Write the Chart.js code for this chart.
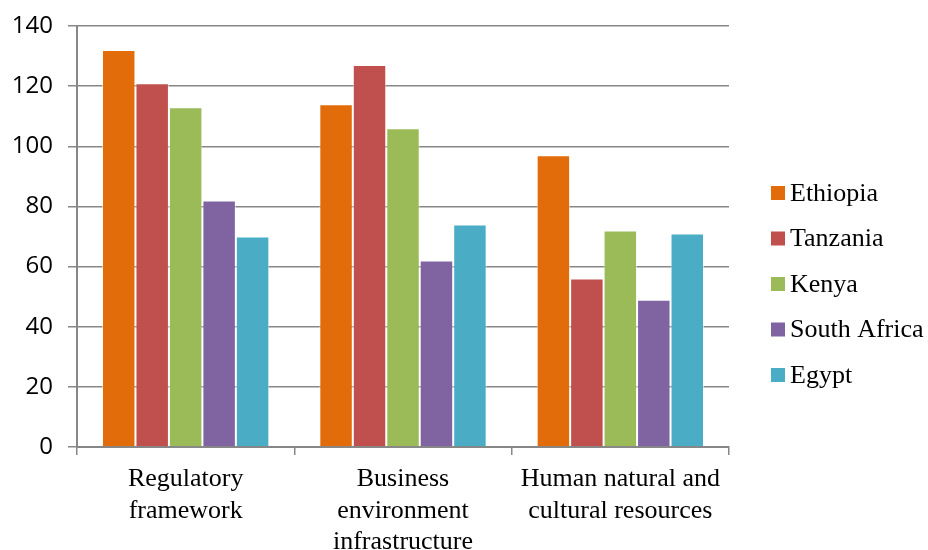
<!DOCTYPE html>
<html>
<head>
<meta charset="utf-8">
<script src="https://cdn.jsdelivr.net/npm/chart.js@4/dist/chart.umd.min.js"></script>
<style>
  html, body { margin: 0; padding: 0; background: #fff; }
  #wrap { width: 928px; height: 550px; position: relative; }
</style>
</head>
<body>
<div id="wrap"><canvas id="chart"></canvas></div>
<script>
const categories = [
  ["Regulatory", "framework"],
  ["Business", "environment", "infrastructure"],
  ["Human natural and", "cultural resources"]
];
const countries = ["Ethiopia", "Tanzania", "Kenya", "South Africa", "Egypt"];
const ethiopia = [132, 114, 97];
const tanzania = [121, 127, 56];
const kenya = [113, 106, 72];
const southAfrica = [82, 62, 49];
const egypt = [70, 74, 71];
const yTicks = [0, 20, 40, 60, 80, 100, 120, 140];

const colors = ["#E36C0A", "#C0504D", "#9BBB59", "#8064A2", "#4BACC6"];
const seriesValues = [ethiopia, tanzania, kenya, southAfrica, egypt];

const gridGrey = "#878787";
const serif = "'Liberation Serif', 'Times New Roman', serif";

// legend drawn by hand so the boxes sit close to the plot
const sideLegend = {
  id: "sideLegend",
  afterDraw(chart) {
    const ctx = chart.ctx;
    const x = 771;
    const firstY = 193;
    const step = 45.5;
    ctx.save();
    ctx.font = "26px " + serif;
    ctx.textBaseline = "middle";
    ctx.textAlign = "left";
    chart.data.datasets.forEach((ds, i) => {
      const y = firstY + i * step;
      ctx.fillStyle = ds.backgroundColor;
      ctx.fillRect(x, y - 7, 14, 14);
      ctx.fillStyle = "#000";
      ctx.fillText(ds.label, x + 19, y + 1);
    });
    ctx.restore();
  }
};

new Chart(document.getElementById("chart"), {
  type: "bar",
  data: {
    labels: categories,
    datasets: countries.map((name, i) => ({
      label: name,
      data: seriesValues[i],
      backgroundColor: colors[i],
      borderColor: "rgba(255,255,255,0.55)",
      borderWidth: 1,
      categoryPercentage: 0.77,
      barPercentage: 1.0
    }))
  },
  options: {
    responsive: true,
    maintainAspectRatio: false,
    animation: false,
    layout: { padding: { left: 12, right: 199, top: 26, bottom: 0 } },
    plugins: {
      legend: { display: false },
      tooltip: { enabled: false }
    },
    scales: {
      x: {
        afterFit(scale) {
          scale.height = 103;
        },
        grid: {
          drawOnChartArea: false,
          drawTicks: true,
          tickLength: 8,
          color: gridGrey,
          lineWidth: 1.5
        },
        border: { color: gridGrey, width: 2 },
        ticks: {
          color: "#000",
          font: { family: serif, size: 26, lineHeight: 1.2 },
          padding: 9,
          maxRotation: 0,
          autoSkip: false
        }
      },
      y: {
        min: 0,
        max: 140,
        afterBuildTicks(scale) {
          scale.ticks = yTicks.map((v) => ({ value: v }));
        },
        afterFit(scale) {
          scale.width = 65;
          scale.paddingTop = 0;
        },
        grid: {
          color: gridGrey,
          lineWidth: 1.5,
          tickLength: 9
        },
        border: { color: gridGrey, width: 2 },
        ticks: {
          color: "#000",
          font: { family: "'Open Sans', 'Liberation Sans', sans-serif", size: 24, lineHeight: 1 },
          padding: 15
        }
      }
    }
  },
  plugins: [sideLegend]
});
</script>
</body>
</html>
